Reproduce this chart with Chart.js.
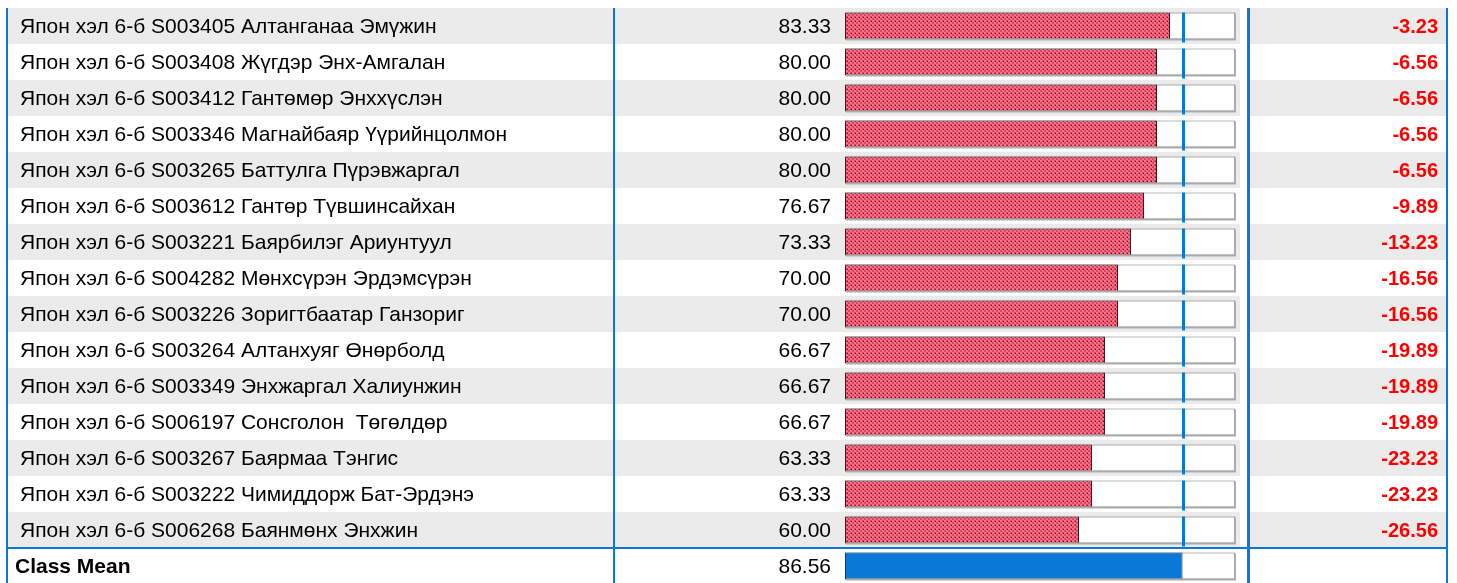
<!DOCTYPE html>
<html>
<head>
<meta charset="utf-8">
<script src="https://cdn.jsdelivr.net/npm/chart.js@4.4.1/dist/chart.umd.min.js"></script>
<style>
  html, body { margin: 0; padding: 0; background: #fff; overflow: hidden; }
  #wrap { position: relative; width: 1457px; height: 584px; }
</style>
</head>
<body>
<div id="wrap"><canvas id="c" width="1457" height="584"></canvas></div>
<script>
// data
const students = [
  "Япон хэл 6-б S003405 Алтанганаа Эмүжин",
  "Япон хэл 6-б S003408 Жүгдэр Энх-Амгалан",
  "Япон хэл 6-б S003412 Гантөмөр Энххүслэн",
  "Япон хэл 6-б S003346 Магнайбаяр Үүрийнцолмон",
  "Япон хэл 6-б S003265 Баттулга Пүрэвжаргал",
  "Япон хэл 6-б S003612 Гантөр Түвшинсайхан",
  "Япон хэл 6-б S003221 Баярбилэг Ариунтуул",
  "Япон хэл 6-б S004282 Мөнхсүрэн Эрдэмсүрэн",
  "Япон хэл 6-б S003226 Зоригтбаатар Ганзориг",
  "Япон хэл 6-б S003264 Алтанхуяг Өнөрболд",
  "Япон хэл 6-б S003349 Энхжаргал Халиунжин",
  "Япон хэл 6-б S006197 Сонсголон  Төгөлдөр",
  "Япон хэл 6-б S003267 Баярмаа Тэнгис",
  "Япон хэл 6-б S003222 Чимиддорж Бат-Эрдэнэ",
  "Япон хэл 6-б S006268 Баянмөнх Энхжин"
];
const scores = [83.33, 80.00, 80.00, 80.00, 80.00, 76.67, 73.33, 70.00, 70.00,
                66.67, 66.67, 66.67, 63.33, 63.33, 60.00];
const diffs = [-3.23, -6.56, -6.56, -6.56, -6.56, -9.89, -13.23, -16.56, -16.56,
               -19.89, -19.89, -19.89, -23.23, -23.23, -26.56];
const meanLabel = "Class Mean";
const classMean = 86.56;
const maxScore = 100;

const labels = students.concat([meanLabel]);
const values = scores.concat([classMean]);

const BLUE = "#0a78d7";
const FONT = "Arial, 'Liberation Sans', sans-serif";

// little checkered fill like the spreadsheet hatch
function hatch() {
  const p = document.createElement("canvas");
  p.width = 4; p.height = 4;
  const g = p.getContext("2d");
  g.fillStyle = "#ff6e84";
  g.fillRect(0, 0, 4, 4);
  g.fillStyle = "#d44a62";
  g.fillRect(2, 0, 2, 2);
  g.fillRect(0, 2, 2, 2);
  g.fillStyle = "#4a1820";
  g.fillRect(3, 1, 1, 1);
  return g.createPattern(p, "repeat");
}
const pat = hatch();

const tablePlugin = {
  id: "table",
  beforeDatasetsDraw(chart) {
    const ctx = chart.ctx;
    const y = chart.scales.y;
    const step = y.getPixelForValue(1) - y.getPixelForValue(0);
    ctx.save();
    ctx.fillStyle = "#ebebeb";
    for (let i = 0; i < students.length; i += 2) {
      const top = y.getPixelForValue(i) - step / 2;
      ctx.fillRect(8, top, 1240 - 8, step);
      ctx.fillRect(1250, top, 1446 - 1250, step);
    }
    ctx.restore();
  },
  afterDatasetsDraw(chart) {
    const ctx = chart.ctx;
    const x = chart.scales.x;
    const y = chart.scales.y;
    const step = y.getPixelForValue(1) - y.getPixelForValue(0);
    const track = chart.getDatasetMeta(1).data;
    ctx.save();

    // light right/bottom edge on each track box
    ctx.strokeStyle = "#ababab";
    ctx.lineWidth = 2;
    track.forEach(b => {
      const top = b.y - b.height / 2, bot = b.y + b.height / 2;
      ctx.beginPath();
      ctx.moveTo(b.base + 1, bot);
      ctx.lineTo(b.x, bot);
      ctx.lineTo(b.x, top + 1);
      ctx.stroke();
    });

    // class mean marker on the student rows
    const mx = x.getPixelForValue(classMean);
    ctx.fillStyle = BLUE;
    for (let i = 0; i < students.length; i++) {
      const b = track[i];
      ctx.fillRect(Math.round(mx) - 1, b.y - b.height / 2, 3, b.height + 3);
    }

    // text columns
    ctx.textBaseline = "middle";
    labels.forEach((name, i) => {
      const cy = y.getPixelForValue(i) + 1;
      const isMean = i === students.length;
      ctx.fillStyle = "#000";
      ctx.textAlign = "left";
      ctx.font = (isMean ? "bold " : "") + "21px " + FONT;
      ctx.fillText(name, isMean ? 15 : 20, cy);
      ctx.font = "21px " + FONT;
      ctx.textAlign = "right";
      ctx.fillText(values[i].toFixed(2), 831, cy);
      if (!isMean) {
        ctx.fillStyle = "#ff0000";
        ctx.font = "bold 20px " + FONT;
        ctx.fillText(diffs[i].toFixed(2), 1438, cy);
      }
    });

    // blue rules
    const top = y.getPixelForValue(0) - step / 2;
    const bottom = chart.height;
    const split = y.getPixelForValue(students.length) - step / 2;
    ctx.fillStyle = BLUE;
    ctx.fillRect(6, top, 2, bottom - top);
    ctx.fillRect(613, top, 2, bottom - top);
    ctx.fillRect(1247, top, 3, bottom - top);
    ctx.fillRect(1446, top, 2, bottom - top);
    ctx.fillRect(6, split - 1, 1442, 2);
    ctx.restore();
  }
};

new Chart(document.getElementById("c"), {
  type: "bar",
  data: {
    labels,
    datasets: [
      {
        label: "Score",
        data: values,
        backgroundColor: values.map((v, i) => i === students.length ? BLUE : pat),
        borderColor: values.map((v, i) => i === students.length ? "#1d3a58" : "#3b1a1e"),
        borderWidth: 1,
        borderSkipped: false,
        order: 1
      },
      {
        label: "Max",
        data: labels.map(() => maxScore),
        backgroundColor: "#ffffff",
        borderColor: "#6f6f6f",
        borderWidth: 1,
        borderSkipped: false,
        order: 2
      }
    ]
  },
  options: {
    indexAxis: "y",
    responsive: false,
    maintainAspectRatio: false,
    animation: false,
    devicePixelRatio: 1,
    datasets: { bar: { grouped: false, barPercentage: 0.75, categoryPercentage: 1 } },
    layout: { padding: { left: 845, right: 222, top: 8, bottom: 0 } },
    scales: {
      x: { display: false, min: 0, max: maxScore },
      y: { display: false }
    },
    plugins: { legend: { display: false }, tooltip: { enabled: false } }
  },
  plugins: [tablePlugin]
});
</script>
</body>
</html>
